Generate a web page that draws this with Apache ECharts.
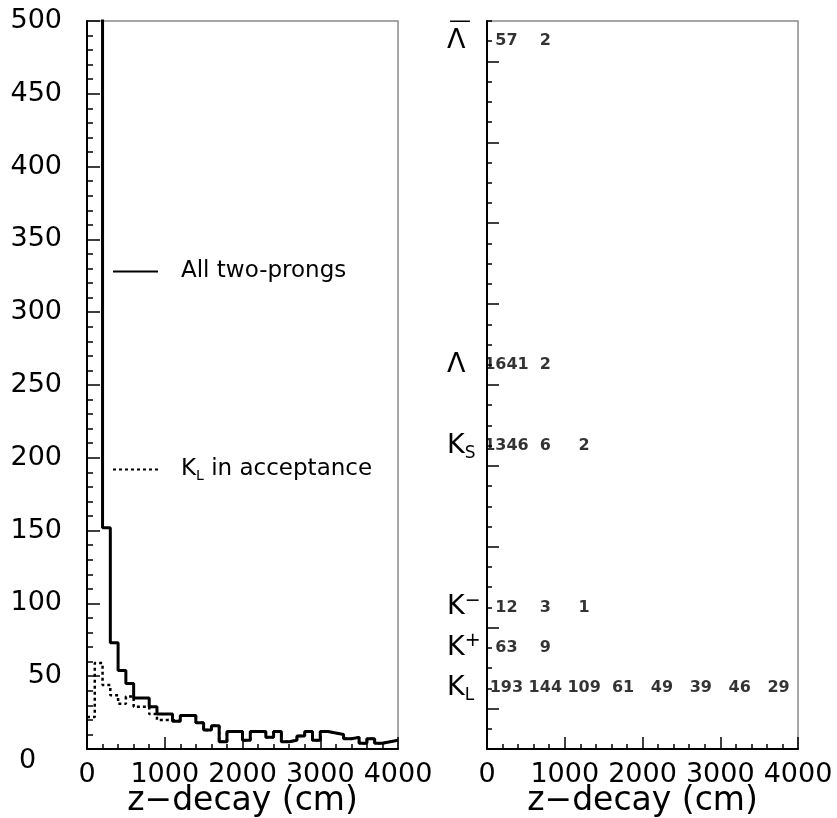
<!DOCTYPE html>
<html>
<head>
<meta charset="utf-8">
<script src="https://cdn.jsdelivr.net/npm/echarts@6/dist/echarts.min.js"></script>
<style>
  html, body { margin: 0; padding: 0; background: #fff; }
  #chart { width: 837px; height: 818px; }
</style>
</head>
<body>
<div id="chart"></div>
<script>
// ---------- data ----------
// left panel: histogram bin edges (cm) and contents per 100 cm bin
const binEdges = [0,100,200,300,400,500,600,700,800,900,1000,1100,1200,1300,1400,1500,1600,1700,1800,1900,
                  2000,2100,2200,2300,2400,2500,2600,2700,2800,2900,3000,3100,3200,3300,3400,3500,3600,3700,3800,3900,4000];
const allTwoProngs = [650,1700,152,73,54,45,35,35,29,24,24,19,23,23,18,13,16,5,12,12,
                      6,12,12,8,12,5,6,9,12,6,12,11,10,7,8,4,7,4,5,6];
const kLInAcceptance = [22,59,44,37,31,36,29,29,24,20,20,19,23,23,18,13,16,5,12,12,
                        6,12,12,8,12,5,6,9,12,6,12,11,10,7,8,4,7,4,5,6];
const leftYTicks = [0,50,100,150,200,250,300,350,400,450,500];
const xTicks = [0,1000,2000,3000,4000];

// right panel: counts per 500 cm z-bin for each particle type
const zBinCenters = [250,750,1250,1750,2250,2750,3250,3750];
const particleNames = ['K_L','K+','K-','K_S','Lambda','AntiLambda'];
const particleRows = [0.25,0.75,1.25,3.25,4.25,8.25];
const countsKL = [193,144,109,61,49,39,46,29];
const countsKplus = [63,9];
const countsKminus = [12,3,1];
const countsKS = [1346,6,2];
const countsLambda = [1641,2];
const countsAntiLambda = [57,2];
const particleCounts = [countsKL,countsKplus,countsKminus,countsKS,countsLambda,countsAntiLambda];
const particleLabelText = [
  '{g|K}{sub|L}',
  '{g|K}{sup|+}',
  '{g|K}{sup|\u2212}',
  '{g|K}{sub|S}',
  '{g|\u039B}',
  '{bar|\u2014}\n{g|\u039B}\n{pad| }'
];

// ---------- build ----------
function stepData(vals) {
  return binEdges.map((e, i) => [e, vals[Math.min(i, vals.length - 1)]]);
}
const countPoints = [];
particleCounts.forEach((arr, r) => {
  arr.forEach((c, i) => countPoints.push([zBinCenters[i], particleRows[r], c]));
});

const FONT = 'DejaVu Sans';
const gridBorder = '#8a8a8a';

function dashPath(total, on, off, h) {
  let d = '';
  for (let x = 0; x < total; x += on + off) {
    const w = Math.min(on, total - x);
    d += 'M' + x + ',0H' + (x + w) + 'V' + h + 'H' + x + 'Z';
  }
  return 'path://' + d;
}

function xAxisCfg(gridIndex) {
  return {
    type: 'value', gridIndex, min: 0, max: 4000, interval: 1000, position: 'bottom',
    name: 'z\u2212decay (cm)', nameLocation: 'middle', nameGap: 34, nameMoveOverlap: false,
    nameTextStyle: { fontFamily: FONT, fontSize: 33, color: '#000', lineHeight: 36 },
    axisLine: { show: true, onZero: false, lineStyle: { color: '#000', width: 2 } },
    axisTick: { show: true, inside: true, length: 12, lineStyle: { color: '#000', width: 1.5 } },
    minorTick: { show: true, splitNumber: 5, length: 5, lineStyle: { color: '#000', width: 1.5 } },
    axisLabel: { show: true, fontFamily: FONT, fontSize: 27, color: '#000', margin: 12,
                 customValues: xTicks, hideOverlap: false, showMinLabel: true, showMaxLabel: true,
                 formatter: v => String(v) },
    splitLine: { show: false }, minorSplitLine: { show: false }
  };
}

const option = {
  backgroundColor: '#fff',
  animation: false,
  grid: [
    { left: 87, top: 21, width: 311, height: 728, containLabel: false, outerBoundsMode: 'none',
      show: true, borderColor: gridBorder, borderWidth: 1.5, backgroundColor: 'transparent' },
    { left: 487, top: 21, width: 311, height: 728, containLabel: false, outerBoundsMode: 'none',
      show: true, borderColor: gridBorder, borderWidth: 1.5, backgroundColor: 'transparent' }
  ],
  xAxis: [xAxisCfg(0), xAxisCfg(1)],
  yAxis: [
    {
      type: 'value', gridIndex: 0, min: 0, max: 500, interval: 50, position: 'left',
      axisLine: { show: true, lineStyle: { color: '#000', width: 2 } },
      axisTick: { show: true, inside: true, length: 13, lineStyle: { color: '#000', width: 1.5 } },
      minorTick: { show: true, splitNumber: 5, length: 6, lineStyle: { color: '#000', width: 1.5 } },
      axisLabel: {
        fontFamily: FONT, fontSize: 27, color: '#000', margin: 25, lineHeight: 24,
        customValues: leftYTicks, hideOverlap: false,
        formatter: v => (v === 0 ? '\n0   ' : String(v))
      },
      splitLine: { show: false }
    },
    {
      type: 'value', gridIndex: 1, min: -0.5, max: 8.5, interval: 0.25, position: 'left',
      axisLine: { show: true, lineStyle: { color: '#000', width: 2 } },
      axisTick: { show: true, inside: true, length: 5, lineStyle: { color: '#000', width: 1.5 } },
      axisLabel: { show: false },
      splitLine: { show: false }
    },
    {
      type: 'value', gridIndex: 1, min: -0.5, max: 8.5, position: 'left', offset: 0,
      axisLine: { show: false },
      axisTick: { show: true, inside: true, length: 12, customValues: [0,1,2,3,4,5,6,7,8],
                  lineStyle: { color: '#000', width: 1.5 } },
      axisLabel: {
        show: true, margin: 40, align: 'left', customValues: particleRows, hideOverlap: false,
        formatter: v => {
          const i = particleRows.findIndex(r => Math.abs(r - v) < 1e-6);
          return i >= 0 ? particleLabelText[i] : '';
        },
        rich: {
          g: { fontFamily: FONT, fontSize: 27, color: '#000', lineHeight: 32 },
          sub: { fontFamily: FONT, fontSize: 17, color: '#000', lineHeight: 14, verticalAlign: 'bottom' },
          sup: { fontFamily: FONT, fontSize: 19, color: '#000', lineHeight: 14, verticalAlign: 'top' },
          bar: { fontFamily: FONT, fontSize: 22, color: '#000', lineHeight: 8, padding: [0, 0, 0, 2] },
          pad: { fontFamily: FONT, fontSize: 8, lineHeight: 8 }
        }
      },
      splitLine: { show: false }
    }
  ],
  legend: [
    {
      left: 113, top: 260, orient: 'vertical', padding: 0, data: ['All two-prongs'],
      itemWidth: 45, itemHeight: 2, selectedMode: false,
      icon: 'path://M0,0H45V2H0Z',
      itemStyle: { color: '#000', borderWidth: 0 },
      formatter: n => '{gap|}' + n,
      textStyle: { fontFamily: FONT, fontSize: 23, color: '#000',
                   rich: { gap: { width: 18 } } }
    },
    {
      left: 113, top: 458, orient: 'vertical', padding: 0, data: ['K_L in acceptance'],
      itemWidth: 45, itemHeight: 2, selectedMode: false,
      icon: dashPath(45, 3, 3, 2),
      itemStyle: { color: '#000', borderWidth: 0 },
      formatter: () => '{gap|}{k|K}{s|L}{k| in acceptance}',
      textStyle: { fontFamily: FONT, fontSize: 23, color: '#000',
                   rich: { gap: { width: 18 },
                           k: { fontFamily: FONT, fontSize: 23, color: '#000', lineHeight: 28 },
                           s: { fontFamily: FONT, fontSize: 14, color: '#000', lineHeight: 12, verticalAlign: 'bottom' } } }
    }
  ],
  series: [
    {
      name: 'K_L in acceptance', type: 'line', xAxisIndex: 0, yAxisIndex: 0,
      step: 'end', data: stepData(kLInAcceptance), symbol: 'none', showSymbol: false,
      clip: true, z: 3,
      lineStyle: { color: '#000', width: 2.5, type: [3, 3] },
      itemStyle: { color: '#000' }
    },
    {
      name: 'All two-prongs', type: 'line', xAxisIndex: 0, yAxisIndex: 0,
      step: 'end', data: stepData(allTwoProngs), symbol: 'none', showSymbol: false,
      clip: true, z: 4,
      lineStyle: { color: '#000', width: 3 },
      itemStyle: { color: '#000' }
    },
    {
      name: 'counts', type: 'scatter', xAxisIndex: 1, yAxisIndex: 1,
      data: countPoints, symbolSize: 1, silent: true,
      itemStyle: { color: 'rgba(0,0,0,0)' },
      label: {
        show: true, position: 'inside', formatter: p => String(p.value[2]),
        fontFamily: FONT, fontWeight: 'bold', fontSize: 16, color: '#000',
        textBorderWidth: 0
      }
    }
  ]
};

const chart = echarts.init(document.getElementById('chart'), null, { renderer: 'canvas' });
chart.setOption(option);
</script>
</body>
</html>
